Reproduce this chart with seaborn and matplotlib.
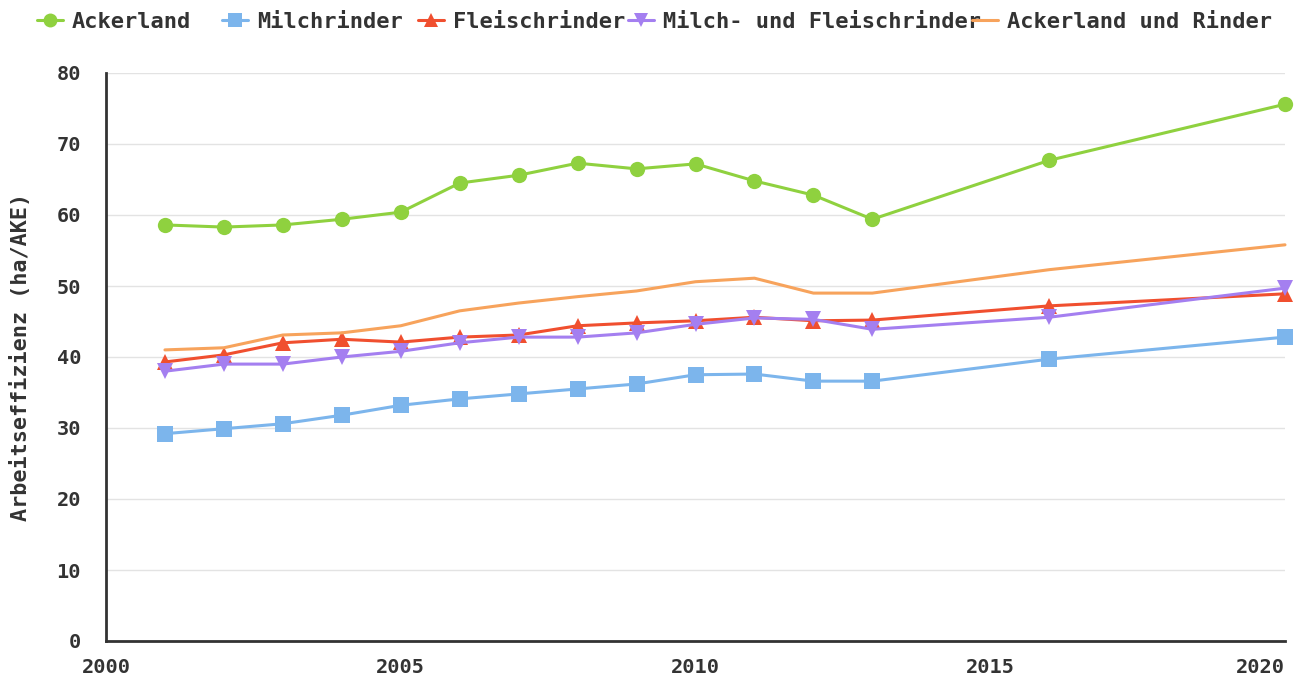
import matplotlib
matplotlib.use("Agg")
import matplotlib.pyplot as plt
import seaborn as sns
import pandas as pd
from matplotlib.lines import Line2D

years = [2001, 2002, 2003, 2004, 2005, 2006, 2007, 2008, 2009, 2010, 2011, 2012, 2013, 2016, 2020]
ackerland = [58.6, 58.3, 58.6, 59.4, 60.4, 64.5, 65.6, 67.3, 66.5, 67.2, 64.8, 62.8, 59.4, 67.7, 75.6]
milchrinder = [29.2, 29.9, 30.6, 31.8, 33.2, 34.1, 34.8, 35.5, 36.2, 37.5, 37.6, 36.6, 36.6, 39.7, 42.8]
fleischrinder = [39.3, 40.3, 42.0, 42.5, 42.1, 42.8, 43.1, 44.4, 44.8, 45.1, 45.6, 45.1, 45.2, 47.2, 48.9]
milch_fleisch = [38.0, 39.0, 39.0, 40.0, 40.8, 42.0, 42.8, 42.8, 43.4, 44.6, 45.5, 45.3, 43.9, 45.6, 49.7]
ackerland_rinder = [41.0, 41.3, 43.1, 43.4, 44.4, 46.5, 47.6, 48.5, 49.3, 50.6, 51.1, 49.0, 49.0, 52.3, 55.8]

series_names = ["Ackerland", "Milchrinder", "Fleischrinder",
                "Milch- und Fleischrinder", "Ackerland und Rinder"]
series_values = [ackerland, milchrinder, fleischrinder, milch_fleisch, ackerland_rinder]
colors = ["#8fd13f", "#7cb5ec", "#f04f2f", "#a47ff0", "#f7a35c"]
markers = ["o", "s", "^", "v", ""]
x_ticks = [2000, 2005, 2010, 2015, 2020]
y_ticks = [0, 10, 20, 30, 40, 50, 60, 70, 80]

rows = []
for name, vals in zip(series_names, series_values):
    for y, v in zip(years, vals):
        rows.append({"Jahr": y, "Wert": v, "Serie": name})
df = pd.DataFrame(rows)

sns.set_theme(style="white")
plt.rcParams['font.family'] = ['DejaVu Sans Mono']
plt.rcParams['font.weight'] = 'bold'

TXT = "#333333"
W, H = 1295, 679
fig = plt.figure(figsize=(W / 100, H / 100), dpi=100)
ax = fig.add_axes([106/W, 1-641/H, (1285-106)/W, (641-73)/H])

palette = dict(zip(series_names, colors))
mk = {n: (m if m else ",") for n, m in zip(series_names, markers)}
sns.lineplot(data=df, x="Jahr", y="Wert", hue="Serie", style="Serie",
             palette=palette, markers=mk, dashes=False, ax=ax,
             linewidth=2.2, markersize=11, markeredgewidth=0, legend=False)
for line, m in zip(ax.get_lines(), markers):
    if not m:
        line.set_marker("None")
for line in ax.get_lines():
    line.set_clip_on(False)

ax.set_xlim(2000, 2020)
ax.set_ylim(0, 80)
ax.set_xticks(x_ticks)
ax.set_yticks(y_ticks)
ax.grid(axis="y", color="#e3e3e3", linewidth=1)
ax.grid(axis="x", visible=False)
for s in ["top", "right"]:
    ax.spines[s].set_visible(False)
for s in ["left", "bottom"]:
    ax.spines[s].set_color(TXT)
    ax.spines[s].set_linewidth(2)
ax.tick_params(axis="both", which="both", direction="out", length=11, width=2,
               color=TXT, labelcolor=TXT, labelsize=14.6)
ax.tick_params(axis="y", pad=7)
ax.tick_params(axis="x", pad=1)
for lbl in ax.get_xticklabels() + ax.get_yticklabels():
    lbl.set_fontweight("bold")
xl = ax.get_xticklabels()
xl[-1].set_horizontalalignment("right")
ax.set_xlabel("")
ax.set_ylabel("Arbeitseffizienz (ha/AKE)", fontsize=15.7, fontweight="bold", color=TXT)
ax.yaxis.set_label_coords(-0.064, 0.5)

# legend items placed individually, as in the reference layout
legend_x_px = [37, 222, 418, 628, 972]
for n, c, m, xp in zip(series_names, colors, markers, legend_x_px):
    h = Line2D([0], [0], color=c, linewidth=2.2,
               marker=(m if m else None), markersize=10, markeredgewidth=0)
    leg = fig.legend([h], [n], loc="upper left", bbox_to_anchor=(xp / W, 1 - 12 / H),
                     frameon=False, handlelength=1.19, handletextpad=0.41,
                     borderpad=0, borderaxespad=0,
                     prop={"family": "DejaVu Sans Mono", "weight": "bold", "size": 15.8})
    for t in leg.get_texts():
        t.set_color(TXT)

fig.savefig("out.png", dpi=100, facecolor="white")
